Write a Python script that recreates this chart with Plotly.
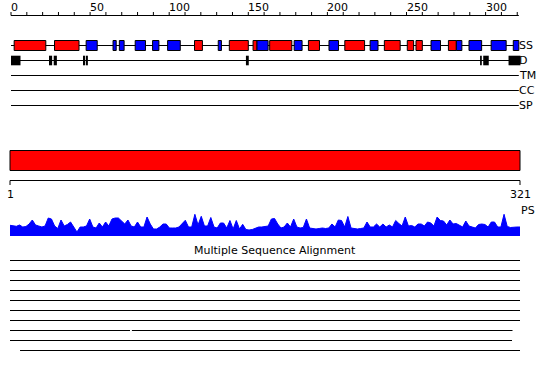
import plotly.graph_objects as go

# ---------------- data ----------------
SEQ_LEN = 321
ruler_ticks = list(range(0, 330, 10))
ruler_labels = [0, 50, 100, 150, 200, 250, 300]

# secondary structure elements (H = helix, E = strand)
ss_start = [2, 27.5, 47.5, 64.5, 68.5, 78.5, 89.5, 99, 116, 131, 138, 153, 155.5,
            163.5, 179, 188, 201, 211, 227, 236, 250.5, 256, 265.5, 276.5, 281.5,
            289.5, 303.5, 317.5]
ss_end = [22, 43, 54.5, 66.5, 71.5, 85, 93.5, 107, 121, 133, 150, 155.5, 162.5,
          177.5, 184, 195, 207, 223.5, 232, 246, 254.5, 260, 271.5, 281.5, 285,
          297.5, 313, 321]
ss_type = ["H", "H", "E", "E", "E", "E", "E", "E", "H", "E", "H", "H", "E",
           "H", "E", "H", "E", "H", "E", "H", "H", "H", "E", "H", "E",
           "E", "E", "E"]

# disordered regions
dis_start = [0, 24, 27, 45.5, 47.3, 148.5, 296.5, 298.5, 314.5]
dis_end = [6, 26, 29, 46.8, 48.6, 150.3, 297.6, 302, 322]

track_names = ["SS", "D", "TM", "CC", "SP"]

# per-residue profile (PS)
ps_pos = list(range(1, 322, 2))
ps_val = [10.7, 10, 9.7, 11, 9, 9.5, 12, 16, 11, 10,
          9, 10, 18, 17, 10, 7.5, 16, 10, 11.5, 14,
          9, 4, 9, 9, 10, 17, 9, 8, 13, 9,
          14, 10, 17, 18, 18, 15, 12, 16, 10, 9,
          14, 9, 9, 19, 12, 7, 7, 9, 12, 12,
          8, 8, 8, 9, 12, 15.7, 9, 9, 21.7, 11,
          19.7, 10, 10, 18.5, 9, 8, 13, 13, 8, 15.5,
          7, 15.5, 7, 11.7, 6.5, 6, 6.5, 8, 9, 9,
          9.5, 10, 17, 17.5, 12, 8, 9, 13, 9, 17,
          9, 8, 8.5, 17, 8, 7.5, 7, 7.5, 8, 7.5,
          8, 12, 9, 16, 15.5, 9, 19.5, 8, 7.5, 7,
          7.5, 8, 14, 9, 9, 12, 9, 12, 9, 11,
          9, 15.5, 12.5, 10, 19, 10, 10.5, 9, 12, 12,
          10, 14, 13, 10, 19, 15.5, 15, 11, 16, 12,
          12.5, 11, 9, 15, 10, 9, 8, 11.5, 12, 11.5,
          9, 14, 14, 9, 9, 21.7, 9.5, 8.5, 9, 9,
          9]

# multiple sequence alignment coverage rows
msa_start = [[1], [1], [1], [1], [1], [1], [1], [1, 77.5], [1], [7.3]]
msa_end = [[321], [321], [321], [321], [321], [321], [321], [76.3, 316.3], [316], [321]]

# ---------------- layout constants (pixels) ----------------
W, H = 550, 380
TOP_X0, TOP_SCALE = 11.0, 1.582        # residue 0 -> px 11
BOT_X0, BOT_SCALE = 10.0, 1.59375      # residue 1 -> px 10
RULER_Y = 15.5
TRACK_Y = [45.5, 60.5, 75.5, 90.5, 105.5]
BAR_Y0, BAR_Y1 = 150.5, 170.5
AXIS_Y = 180.5
MSA_Y0, MSA_DY = 260.5, 10
FONT = dict(family="DejaVu Sans", size=11, color="black")
RED, BLUE = "#ff0000", "#0000ff"

fig = go.Figure()
shapes = []
annotations = []

# top ruler
rx, ry = [0, SEQ_LEN], [RULER_Y, RULER_Y]
rx += [None]
ry += [None]
for t in ruler_ticks:
    rx += [t, t, None]
    ry += [RULER_Y, RULER_Y - 3.5, None]
fig.add_trace(go.Scatter(x=rx, y=ry, mode="lines", line=dict(color="black", width=1),
                         hoverinfo="skip", showlegend=False))
for t in ruler_labels:
    annotations.append(dict(x=t, y=7, xref="x", yref="y", text=str(t), showarrow=False,
                            xanchor="left", yanchor="middle", font=FONT, xshift=-2))

# track baselines
tx, ty = [], []
for yv in TRACK_Y:
    tx += [0, SEQ_LEN, None]
    ty += [yv, yv, None]
fig.add_trace(go.Scatter(x=tx, y=ty, mode="lines", line=dict(color="black", width=1),
                         hoverinfo="skip", showlegend=False))
for name, yv in zip(track_names, TRACK_Y):
    annotations.append(dict(x=SEQ_LEN, y=yv, xref="x", yref="y", text=name, showarrow=False,
                            xanchor="left", yanchor="middle", font=FONT, xshift=-2))

# SS boxes
for s, e, t in zip(ss_start, ss_end, ss_type):
    shapes.append(dict(type="rect", xref="x", yref="y", x0=s, x1=e,
                       y0=TRACK_Y[0] - 5, y1=TRACK_Y[0] + 5,
                       fillcolor=RED if t == "H" else BLUE,
                       line=dict(color="black", width=1)))
# disorder boxes
for s, e in zip(dis_start, dis_end):
    shapes.append(dict(type="rect", xref="x", yref="y", x0=s, x1=e,
                       y0=TRACK_Y[1] - 4.8, y1=TRACK_Y[1] + 4.8,
                       fillcolor="black", line=dict(width=0)))

# red domain bar (bottom axis)
shapes.append(dict(type="rect", xref="x2", yref="y", x0=1, x1=SEQ_LEN, y0=BAR_Y0, y1=BAR_Y1,
                   fillcolor=RED, line=dict(color="black", width=1)))
bx = [1, SEQ_LEN, None, 1, 1, None, SEQ_LEN, SEQ_LEN]
by = [AXIS_Y, AXIS_Y, None, AXIS_Y, AXIS_Y + 4.5, None, AXIS_Y, AXIS_Y + 4.5]
fig.add_trace(go.Scatter(x=bx, y=by, xaxis="x2", yaxis="y", mode="lines",
                         line=dict(color="black", width=1), hoverinfo="skip", showlegend=False))
for v in [1, SEQ_LEN]:
    annotations.append(dict(x=v, y=194, xref="x2", yref="y", text=str(v), showarrow=False,
                            xanchor="center", yanchor="middle", font=FONT))
annotations.append(dict(x=SEQ_LEN, y=210.5, xref="x2", yref="y", text="PS", showarrow=False,
                        xanchor="left", yanchor="middle", font=FONT, xshift=-1))

# profile
fig.add_trace(go.Scatter(x=ps_pos, y=ps_val, xaxis="x2", yaxis="y2", mode="lines",
                         fill="tozeroy", fillcolor=BLUE, line=dict(color=BLUE, width=1),
                         hoverinfo="skip", showlegend=False))

# MSA
annotations.append(dict(x=0.5, y=250, xref="paper", yref="y", text="Multiple Sequence Alignment",
                        showarrow=False, xanchor="center", yanchor="middle", font=FONT))
mx, my = [], []
for i, (ss, ee) in enumerate(zip(msa_start, msa_end)):
    yv = MSA_Y0 + i * MSA_DY
    for s, e in zip(ss, ee):
        mx += [s, e, None]
        my += [yv, yv, None]
fig.add_trace(go.Scatter(x=mx, y=my, xaxis="x2", yaxis="y", mode="lines",
                         line=dict(color="black", width=1), hoverinfo="skip", showlegend=False))

fig.update_layout(
    width=W, height=H, margin=dict(l=0, r=0, t=0, b=0, pad=0),
    paper_bgcolor="white", plot_bgcolor="white", showlegend=False,
    xaxis=dict(range=[-TOP_X0 / TOP_SCALE, (W - TOP_X0) / TOP_SCALE], domain=[0, 1],
               visible=False, fixedrange=True),
    yaxis=dict(range=[H, 0], domain=[0, 1], visible=False, fixedrange=True),
    xaxis2=dict(range=[1 - BOT_X0 / BOT_SCALE, 1 + (W - BOT_X0) / BOT_SCALE],
                overlaying="x", anchor="y2", visible=False, fixedrange=True),
    yaxis2=dict(range=[0, 30], domain=[(H - 236) / H, (H - 206) / H], anchor="x2",
                visible=False, fixedrange=True),
    shapes=shapes, annotations=annotations,
)

fig.write_html("out.html", config={"displayModeBar": False})
